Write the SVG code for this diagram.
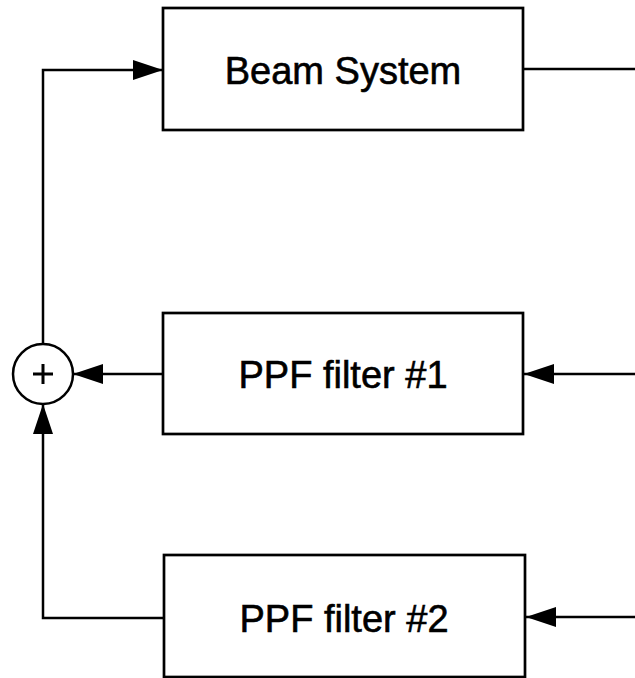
<svg xmlns="http://www.w3.org/2000/svg" width="635" height="678" viewBox="0 0 635 678">
<style>
.box{fill:#fff;stroke:#000;stroke-width:2.7}
.ln{fill:none;stroke:#000;stroke-width:2.5}
.lbl{font-family:"Liberation Sans",Arial,sans-serif;font-size:38px;fill:#000;stroke:#000;stroke-width:0.6;text-anchor:middle}
</style>
<defs>
<marker id="ah" viewBox="0 0 30 20" refX="30" refY="10" markerWidth="30" markerHeight="20" markerUnits="userSpaceOnUse" orient="auto">
<path d="M0,0 L30,10 L0,20 Z" fill="#000"/>
</marker>
</defs>
<rect width="635" height="678" fill="#fff"/>
<g id="connectors">
<path class="ln" d="M43,344 L43,70 L163,70" marker-end="url(#ah)"/>
<path class="ln" d="M523,69 L635,69"/>
<path class="ln" d="M163,374 L73,374" marker-end="url(#ah)"/>
<path class="ln" d="M635,374 L524,374" marker-end="url(#ah)"/>
<path class="ln" d="M164,618 L43,618 L43,404" marker-end="url(#ah)"/>
<path class="ln" d="M635,617 L526,617" marker-end="url(#ah)"/>
</g>
<g id="beam">
<rect class="box" x="163" y="8" width="360" height="122"/>
<text class="lbl" x="343" y="84">Beam System</text>
</g>
<g id="ppf1">
<rect class="box" x="163" y="313" width="360" height="121"/>
<text class="lbl" x="343" y="388">PPF filter #1</text>
</g>
<g id="ppf2">
<rect class="box" x="164" y="555" width="361" height="122"/>
<text class="lbl" x="344" y="632">PPF filter #2</text>
</g>
<g id="sum">
<circle cx="43" cy="374" r="30" fill="#fff" stroke="#000" stroke-width="2.5"/>
<path d="M33,374 H53 M43,364 V384" stroke="#000" stroke-width="3"/>
</g>
</svg>
